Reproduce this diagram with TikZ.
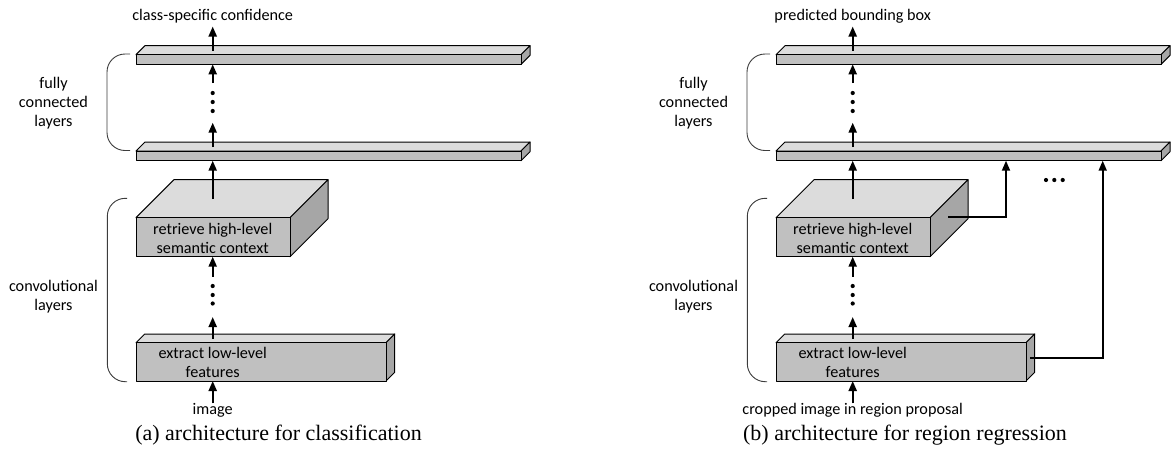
\documentclass[tikz,border=0pt]{standalone}
\usepackage{fontspec}
\setmainfont{Liberation Serif}
\newfontfamily\labelfont{Carlito}
\usetikzlibrary{arrows.meta}

\definecolor{facefront}{HTML}{C0C0C0}
\definecolor{facetop}{HTML}{DCDCDC}
\definecolor{faceside}{HTML}{A6A6A6}
\definecolor{bracegray}{HTML}{3C3C3C}

\tikzset{
  edge/.style={draw=black, line width=1pt, line join=round},
  flow/.style={line width=2.1pt, -{Triangle[length=10pt,width=8pt]}},
  link/.style={line width=1.8pt, -{Triangle[length=10pt,width=8pt]}},
  lbl/.style={font=\labelfont\fontsize{16.2}{19}\selectfont, align=center, inner sep=0pt},
  capt/.style={font=\fontsize{22}{26}\selectfont, inner sep=0pt},
  brk/.style={draw=bracegray, line width=0.9pt, rounded corners=18pt},
  dot/.style={circle, fill=black, inner sep=0pt, minimum size=4.2pt},
}

% cuboid: name, left, top, right, bottom, depth
\newcommand{\cuboid}[6]{%
  \filldraw[edge, fill=facetop] (#2,#3) -- (#2+#6,#3-#6) -- (#4+#6,#3-#6) -- (#4,#3) -- cycle;
  \filldraw[edge, fill=faceside] (#4,#3) -- (#4+#6,#3-#6) -- (#4+#6,#5-#6) -- (#4,#5) -- cycle;
  \node[edge, fill=facefront, anchor=north west, inner sep=0pt, outer sep=0pt,
        minimum width=#4-#2, minimum height=#5-#3] (#1) at (#2,#3) {};
}

% one network column: prefix, output label, input label
\newcommand{\netcolumn}[3]{%
  \cuboid{#1-fc2}{136}{54.7}{521}{64.3}{9}
  \cuboid{#1-fc1}{136}{151}{521}{160.7}{9}
  \cuboid{#1-hi}{136}{217.7}{290}{256.7}{38}
  \cuboid{#1-lo}{136}{342.7}{386}{381}{8.7}
  \coordinate (#1-ax) at (212.7,0);
  \node[lbl] (#1-hitext) at (212.7,238) {retrieve high-level\\semantic context};
  \node[lbl] (#1-lotext) at (212.7,362.5) {extract low-level\\features};
  \node[lbl] (#1-out) at (212.7,16) {#2};
  \node[lbl] (#1-in) at (212.7,410.5) {#3};
  \node[lbl] (#1-fclabel) at (53.5,103) {fully\\connected\\layers};
  \node[lbl] (#1-cvlabel) at (53.5,297) {convolutional\\layers};
  \draw[brk] (130,54) -- (107,54) -- (107,150.5) -- (130,150.5);
  \draw[brk] (127,198.3) -- (107.3,198.3) -- (107.3,381.7) -- (127,381.7);
  \node[dot] (#1-d1) at (212.7,93) {};
  \node[dot] (#1-d2) at (212.7,102) {};
  \node[dot] (#1-d3) at (212.7,111) {};
  \node[dot] (#1-d4) at (212.7,286) {};
  \node[dot] (#1-d5) at (212.7,295) {};
  \node[dot] (#1-d6) at (212.7,303.5) {};
  \draw[flow] (212.7,50.5) -- (212.7,26.5);
  \draw[flow] (212.7,83) -- (#1-fc2.south -| #1-ax);
  \draw[flow] (212.7,147) -- (212.7,122.7);
  \draw[flow] (212.7,199) -- (#1-fc1.south -| #1-ax);
  \draw[flow] (212.7,276.7) -- (#1-hi.south -| #1-ax);
  \draw[flow] (212.7,338.5) -- (212.7,317);
  \draw[flow] (#1-in.north) -- (#1-lo.south -| #1-ax);
}

\begin{document}
\begin{tikzpicture}[x=1pt, y=-1pt]
  \useasboundingbox (0,0) rectangle (1172,461);

  \netcolumn{a}{class-specific confidence}{image}
  \begin{scope}[xshift=640pt]
    \netcolumn{b}{predicted bounding box}{cropped image in region proposal}
  \end{scope}

  % skip connections into the first fully connected layer
  \coordinate (b-j1) at (1006,0);
  \coordinate (b-j2) at (1102.7,0);
  \draw[link] (948,216.7) -| (b-fc1.south -| b-j1);
  \draw[link] (1030,357.7) -| (b-fc1.south -| b-j2);
  \node[dot] (b-h1) at (1046,180) {};
  \node[dot] (b-h2) at (1054.3,180) {};
  \node[dot] (b-h3) at (1062.7,180) {};

  \node[capt] (a-caption) at (278.5,435) {(a) architecture for classification};
  \node[capt] (b-caption) at (905,435) {(b) architecture for region regression};
\end{tikzpicture}
\end{document}
